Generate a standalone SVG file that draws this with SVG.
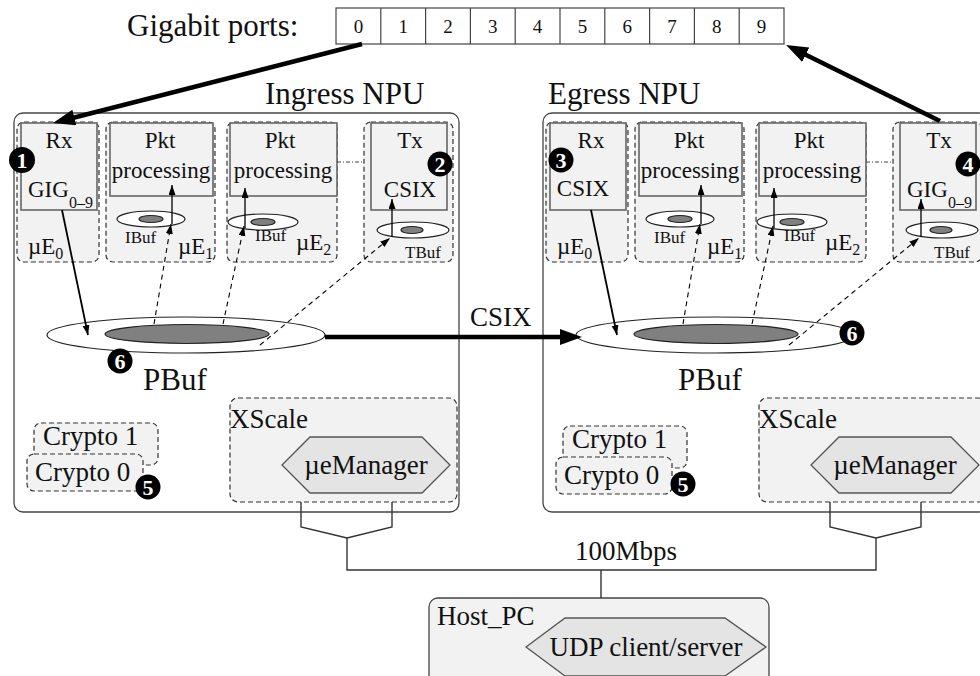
<svg xmlns="http://www.w3.org/2000/svg" width="980" height="676" viewBox="0 0 980 676">
<defs>
<style>
text{font-family:"Liberation Serif","Times New Roman",serif;fill:#111}
.npu{fill:#fff;stroke:#444;stroke-width:1.3}
.ue{fill:#f2f2f2;stroke:#333;stroke-width:1.2;stroke-dasharray:5,3}
.blk{fill:#f2f2f2;stroke:#666;stroke-width:1.6}
.oe{fill:#fff;stroke:#222;stroke-width:1.2}
.ie{fill:#808080;stroke:#222;stroke-width:1.2}
.hex{fill:#e4e4e4;stroke:#555;stroke-width:1.3}
.port{fill:#fff;stroke:#444;stroke-width:1.2}
.t31{font-size:31px}
.t27{font-size:27px}
.t23{font-size:23px}
.t17{font-size:17px}
.sub{font-size:16px}
.thick{stroke:#000;stroke-width:4.5;fill:none}
.med{stroke:#000;stroke-width:1.8;fill:none}
.thin{stroke:#000;stroke-width:1.3;fill:none}
.dash{stroke:#000;stroke-width:1.1;fill:none;stroke-dasharray:5,4}
.dd{stroke:#444;stroke-width:1.1;fill:none;stroke-dasharray:4,2,1,2}
.bus{stroke:#333;stroke-width:1.4;fill:none}
.mk circle{fill:#000}
.mk text{fill:#fff;font-weight:bold;font-size:22px;text-anchor:middle}
</style>
<marker id="ahBig" markerUnits="userSpaceOnUse" markerWidth="24" markerHeight="18" refX="8" refY="8" orient="auto"><path d="M0,0 L22,8 L0,16 z" fill="#000"/></marker>
<marker id="ahSm" markerUnits="userSpaceOnUse" markerWidth="12" markerHeight="8" refX="10" refY="3.5" orient="auto"><path d="M0,0 L10,3.5 L0,7 z" fill="#000"/></marker>
</defs>

<g id="ports">
<text class="t31" x="127" y="36">Gigabit ports:</text>
<rect class="port" x="336" y="8" width="448" height="36"/>
<path class="port" d="M380.8,8V44M425.6,8V44M470.4,8V44M515.2,8V44M560,8V44M604.8,8V44M649.6,8V44M694.4,8V44M739.2,8V44"/>
<g font-size="19" text-anchor="middle">
<text x="358.4" y="33">0</text><text x="403.2" y="33">1</text><text x="448" y="33">2</text><text x="492.8" y="33">3</text><text x="537.6" y="33">4</text><text x="582.4" y="33">5</text><text x="627.2" y="33">6</text><text x="672" y="33">7</text><text x="716.8" y="33">8</text><text x="761.6" y="33">9</text>
</g>
</g>

<g id="ingress_npu">
<text class="t31" x="265" y="104">Ingress NPU</text>
<rect class="npu" x="14" y="113" width="445" height="399" rx="9"/>
</g>
<g id="egress_npu">
<text class="t31" x="548" y="104">Egress NPU</text>
<rect class="npu" x="543" y="113" width="445" height="399" rx="9"/>
</g>

<!-- Ingress microengines -->
<g id="ing_ue0">
<rect class="ue" x="17" y="122" width="82" height="140" rx="7"/>
<rect class="blk" x="21" y="123" width="76" height="87"/>
<text class="t23" x="59" y="148" text-anchor="middle">Rx</text>
<text class="t23" x="28" y="197">GIG<tspan class="sub" dy="11">0–9</tspan></text>
<text class="t23" x="28" y="254">µE<tspan class="sub" dy="5">0</tspan></text>
</g>
<g id="ing_ue1">
<rect class="ue" x="106" y="122" width="109" height="140" rx="7"/>
<rect class="blk" x="110" y="123" width="103" height="73"/>
<text class="t23" x="160" y="148" text-anchor="middle">Pkt</text>
<text class="t23" x="161" y="178" text-anchor="middle">processing</text>
<ellipse class="oe" cx="151" cy="219" rx="34" ry="8"/>
<ellipse class="ie" cx="151" cy="219" rx="12" ry="3.5"/>
<text class="t17" x="125" y="243">IBuf</text>
<text class="t23" x="178" y="254">µE<tspan class="sub" dy="5">1</tspan></text>
</g>
<g id="ing_ue2">
<rect class="ue" x="227" y="122" width="110" height="140" rx="7"/>
<rect class="blk" x="230" y="123" width="107" height="73"/>
<text class="t23" x="280" y="148" text-anchor="middle">Pkt</text>
<text class="t23" x="283" y="178" text-anchor="middle">processing</text>
<ellipse class="oe" cx="263" cy="222" rx="35" ry="8"/>
<ellipse class="ie" cx="263" cy="222" rx="12" ry="3.5"/>
<text class="t17" x="255" y="241">IBuf</text>
<text class="t23" x="296" y="250">µE<tspan class="sub" dy="5">2</tspan></text>
</g>
<g id="ing_tx">
<rect class="ue" x="364" y="122" width="89" height="140" rx="7"/>
<rect class="blk" x="371" y="123" width="76" height="87"/>
<text class="t23" x="410" y="148" text-anchor="middle">Tx</text>
<text class="t23" x="410" y="197" text-anchor="middle">CSIX</text>
<ellipse class="oe" cx="413" cy="230" rx="36" ry="8"/>
<ellipse class="ie" cx="412" cy="230" rx="11" ry="3.5"/>
<text class="t17" x="405" y="258">TBuf</text>
</g>
<g id="ing_pbuf">
<ellipse class="oe" cx="186" cy="335" rx="139" ry="18"/>
<ellipse class="ie" cx="187" cy="334" rx="82" ry="9.5"/>
<text class="t31" x="143" y="390">PBuf</text>
</g>
<g id="ing_crypto">
<rect class="ue" x="34" y="423" width="124" height="42" rx="7"/>
<text class="t27" x="43" y="445">Crypto 1</text>
<rect class="ue" x="27" y="454" width="116" height="37" rx="7"/>
<text class="t27" x="35" y="481">Crypto 0</text>
</g>
<g id="ing_xscale">
<rect class="ue" x="230" y="398" width="227" height="104" rx="8"/>
<text class="t27" x="230" y="428">XScale</text>
<polygon class="hex" points="282,465 310,437 422,437 450,465 422,493 310,493"/>
<text class="t27" x="366" y="474" text-anchor="middle">µeManager</text>
</g>

<!-- Egress microengines -->
<g id="eg_ue0">
<rect class="ue" x="546" y="122" width="82" height="140" rx="7"/>
<rect class="blk" x="550" y="123" width="76" height="87"/>
<text class="t23" x="591" y="148" text-anchor="middle">Rx</text>
<text class="t23" x="583" y="196" text-anchor="middle">CSIX</text>
<text class="t23" x="557" y="254">µE<tspan class="sub" dy="5">0</tspan></text>
</g>
<g id="eg_ue1" transform="translate(529,0)">
<rect class="ue" x="106" y="122" width="109" height="140" rx="7"/>
<rect class="blk" x="110" y="123" width="103" height="73"/>
<text class="t23" x="160" y="148" text-anchor="middle">Pkt</text>
<text class="t23" x="161" y="178" text-anchor="middle">processing</text>
<ellipse class="oe" cx="151" cy="219" rx="34" ry="8"/>
<ellipse class="ie" cx="151" cy="219" rx="12" ry="3.5"/>
<text class="t17" x="125" y="243">IBuf</text>
<text class="t23" x="178" y="254">µE<tspan class="sub" dy="5">1</tspan></text>
</g>
<g id="eg_ue2" transform="translate(529,0)">
<rect class="ue" x="227" y="122" width="110" height="140" rx="7"/>
<rect class="blk" x="230" y="123" width="107" height="73"/>
<text class="t23" x="280" y="148" text-anchor="middle">Pkt</text>
<text class="t23" x="283" y="178" text-anchor="middle">processing</text>
<ellipse class="oe" cx="263" cy="222" rx="35" ry="8"/>
<ellipse class="ie" cx="263" cy="222" rx="12" ry="3.5"/>
<text class="t17" x="255" y="241">IBuf</text>
<text class="t23" x="296" y="250">µE<tspan class="sub" dy="5">2</tspan></text>
</g>
<g id="eg_tx">
<rect class="ue" x="893" y="122" width="89" height="140" rx="7"/>
<rect class="blk" x="900" y="123" width="76" height="87"/>
<text class="t23" x="939" y="148" text-anchor="middle">Tx</text>
<text class="t23" x="907" y="197">GIG<tspan class="sub" dy="11">0–9</tspan></text>
<ellipse class="oe" cx="942" cy="230" rx="36" ry="8"/>
<ellipse class="ie" cx="941" cy="230" rx="11" ry="3.5"/>
<text class="t17" x="934" y="258">TBuf</text>
</g>
<g id="eg_pbuf">
<ellipse class="oe" cx="715" cy="335" rx="139" ry="18"/>
<ellipse class="ie" cx="716" cy="334" rx="82" ry="9.5"/>
<text class="t31" x="678" y="390">PBuf</text>
</g>
<g id="eg_crypto" transform="translate(529,3)">
<rect class="ue" x="34" y="423" width="124" height="42" rx="7"/>
<text class="t27" x="43" y="445">Crypto 1</text>
<rect class="ue" x="27" y="454" width="116" height="37" rx="7"/>
<text class="t27" x="35" y="481">Crypto 0</text>
</g>
<g id="eg_xscale" transform="translate(529,0)">
<rect class="ue" x="230" y="398" width="227" height="104" rx="8"/>
<text class="t27" x="230" y="428">XScale</text>
<polygon class="hex" points="282,465 310,437 422,437 450,465 422,493 310,493"/>
<text class="t27" x="366" y="474" text-anchor="middle">µeManager</text>
</g>

<g id="host_pc">
<rect x="429" y="598" width="340" height="90" rx="9" fill="#f2f2f2" stroke="#444" stroke-width="1.3"/>
<text class="t27" x="437" y="625">Host_PC</text>
<polygon class="hex" points="526,647 565,618 725,618 766,647 725,676 565,676"/>
<text class="t27" x="646" y="656" text-anchor="middle">UDP client/server</text>
</g>

<g id="connectors">
<!-- gigabit port arrows -->
<line class="thick" x1="362" y1="44" x2="66.6" y2="119.5" marker-end="url(#ahBig)"/>
<line class="thick" x1="940" y1="121" x2="798.6" y2="51.2" marker-end="url(#ahBig)"/>
<!-- CSIX -->
<line class="thick" x1="325" y1="337" x2="568" y2="337" marker-end="url(#ahBig)"/>
<text class="t27" x="470" y="326">CSIX</text>
<!-- Rx to PBuf -->
<line class="med" x1="62" y1="210" x2="88" y2="335" marker-end="url(#ahSm)"/>
<line class="med" x1="591" y1="210" x2="617" y2="335" marker-end="url(#ahSm)"/>
<!-- Ingress PBuf to buffers -->
<line class="dash" x1="154" y1="324" x2="171" y2="224" marker-end="url(#ahSm)"/>
<line class="thin" x1="172" y1="224" x2="172" y2="185" marker-end="url(#ahSm)"/>
<line class="dash" x1="223" y1="324" x2="244" y2="226" marker-end="url(#ahSm)"/>
<line class="thin" x1="245" y1="228" x2="245" y2="188" marker-end="url(#ahSm)"/>
<line class="dash" x1="260" y1="345" x2="390" y2="238" marker-end="url(#ahSm)"/>
<line class="thin" x1="392" y1="237" x2="392" y2="199" marker-end="url(#ahSm)"/>
<path class="dd" d="M337,162H364"/>
<!-- Egress PBuf to buffers -->
<line class="dash" x1="683" y1="324" x2="700" y2="224" marker-end="url(#ahSm)"/>
<line class="thin" x1="701" y1="224" x2="701" y2="185" marker-end="url(#ahSm)"/>
<line class="dash" x1="752" y1="324" x2="773" y2="226" marker-end="url(#ahSm)"/>
<line class="thin" x1="774" y1="228" x2="774" y2="188" marker-end="url(#ahSm)"/>
<line class="dash" x1="789" y1="345" x2="919" y2="238" marker-end="url(#ahSm)"/>
<line class="thin" x1="921" y1="237" x2="921" y2="199" marker-end="url(#ahSm)"/>
<path class="dd" d="M866,162H893"/>
<!-- Crypto small dashed hooks -->
<!-- 100Mbps bus -->
<path class="bus" d="M301,502V527L347,538L392,527V502"/>
<path class="bus" d="M830,502V527L876,538L921,527V502"/>
<path class="bus" d="M347,538V570H876V538"/>
<path class="bus" d="M601,570V598"/>
<text class="t27" x="575" y="560">100Mbps</text>
</g>

<g id="markers" class="mk">
<circle cx="22" cy="160" r="13"/><text x="22" y="168">1</text>
<circle cx="440" cy="164" r="12.5"/><text x="440" y="172">2</text>
<circle cx="561" cy="160" r="12.5"/><text x="561" y="168">3</text>
<circle cx="968" cy="164" r="12.5"/><text x="968" y="172">4</text>
<circle cx="148" cy="487" r="12.5"/><text x="148" y="495">5</text>
<circle cx="683" cy="484" r="12.5"/><text x="683" y="492">5</text>
<circle cx="120" cy="361" r="12.5"/><text x="120" y="369">6</text>
<circle cx="852" cy="333" r="12.5"/><text x="852" y="341">6</text>
</g>
</svg>
